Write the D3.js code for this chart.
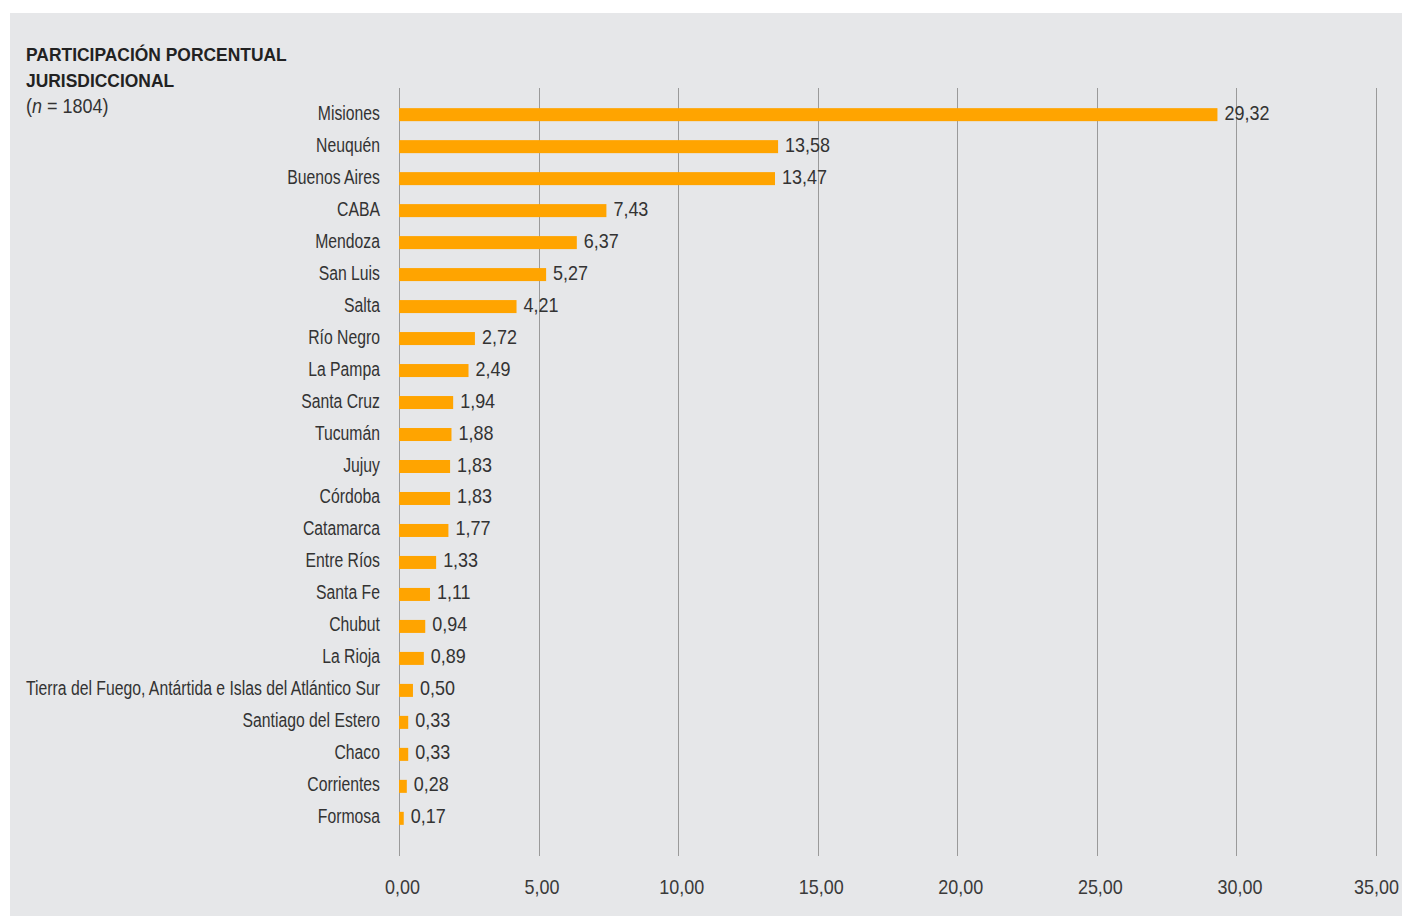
<!DOCTYPE html>
<html><head><meta charset="utf-8">
<script src="https://cdn.jsdelivr.net/npm/d3@7"></script>
<style>
body{margin:0;background:#fff;}
svg text{font-family:"Liberation Sans","Arial",sans-serif;}
</style></head>
<body><svg id="c" width="1402" height="916"></svg>
<script>
const categories = ["Misiones","Neuquén","Buenos Aires","CABA","Mendoza","San Luis","Salta","Río Negro","La Pampa","Santa Cruz","Tucumán","Jujuy","Córdoba","Catamarca","Entre Ríos","Santa Fe","Chubut","La Rioja","Tierra del Fuego, Antártida e Islas del Atlántico Sur","Santiago del Estero","Chaco","Corrientes","Formosa"];
const values = [29.32,13.58,13.47,7.43,6.37,5.27,4.21,2.72,2.49,1.94,1.88,1.83,1.83,1.77,1.33,1.11,0.94,0.89,0.50,0.33,0.33,0.28,0.17];
const tickValues = [0,5,10,15,20,25,30,35];
const titleLines = ["PARTICIPACIÓN PORCENTUAL","JURISDICCIONAL"];

const svg = d3.select("#c");
svg.append("rect").attr("x",10).attr("y",13).attr("width",1392).attr("height",903).attr("fill","#e6e7e9");

const FS = 20;
function measure(str, size, weight){
  const t = svg.append("text").attr("font-size",size).attr("font-weight",weight||"normal").text(str);
  const w = t.node().getComputedTextLength(); t.remove(); return w;
}
// condensed look: horizontal squeeze calibrated on reference text widths
const SX = 354 / measure(categories[18], FS);
const SXN = 45 / measure("29,32", FS);
const SXB = 261 / measure(titleLines[0], 19, "bold");

const x = d3.scaleLinear().domain([0,35]).range([399,1376]);
const y = d3.scaleBand().domain(categories).range([98.5,834.5]).paddingInner(0.59).paddingOuter(0.3);
const fmt = v => d3.format(".2f")(v).replace(".",",");

// gridlines
svg.append("g").selectAll("line").data(tickValues).join("line")
  .attr("x1",d=>Math.round(x(d))+0.5).attr("x2",d=>Math.round(x(d))+0.5)
  .attr("y1",88).attr("y2",856).attr("stroke","#9a9a9a").attr("stroke-width",1);

// axis labels
const ax = svg.append("g").attr("transform","translate(0,894)")
  .call(d3.axisBottom(x).tickValues(tickValues).tickFormat(fmt).tickSize(0).tickPadding(0));
ax.select(".domain").remove();
ax.selectAll("text").attr("font-size",FS).attr("fill","#3a3a3a").attr("dy","0")
  .attr("transform",d=>`translate(${d===35?0:3},0) scale(${SXN},1)`);

// bars
svg.append("g").selectAll("rect").data(values).join("rect")
  .attr("x",x(0)).attr("y",(d,i)=>y(categories[i]) + (y.bandwidth()-13)/2)
  .attr("width",d=>x(d)-x(0)).attr("height",13).attr("fill","#ffa400");

// value labels
svg.append("g").selectAll("text").data(values).join("text")
  .attr("transform",(d,i)=>`translate(${x(d)+7},${y(categories[i])+y.bandwidth()/2+5}) scale(${SXN},1)`)
  .attr("font-size",FS).attr("fill","#333").text(d=>fmt(d));

// category labels
svg.append("g").selectAll("text").data(categories).join("text")
  .attr("transform",d=>`translate(380,${y(d)+y.bandwidth()/2+5}) scale(${SX},1)`)
  .attr("text-anchor","end")
  .attr("font-size",FS).attr("fill","#333").text(d=>d);

// title
svg.append("g").selectAll("text").data(titleLines).join("text")
  .attr("transform",(d,i)=>`translate(26,${61+i*26}) scale(${SXB},1)`)
  .attr("font-size",19).attr("font-weight","bold").attr("fill","#222").text(d=>d);
const sub = svg.append("text").attr("transform",`translate(26,113) scale(${SXN},1)`).attr("font-size",FS).attr("fill","#333");
sub.append("tspan").text("(");
sub.append("tspan").attr("font-style","italic").text("n");
sub.append("tspan").text(" = 1804)");
</script></body></html>
